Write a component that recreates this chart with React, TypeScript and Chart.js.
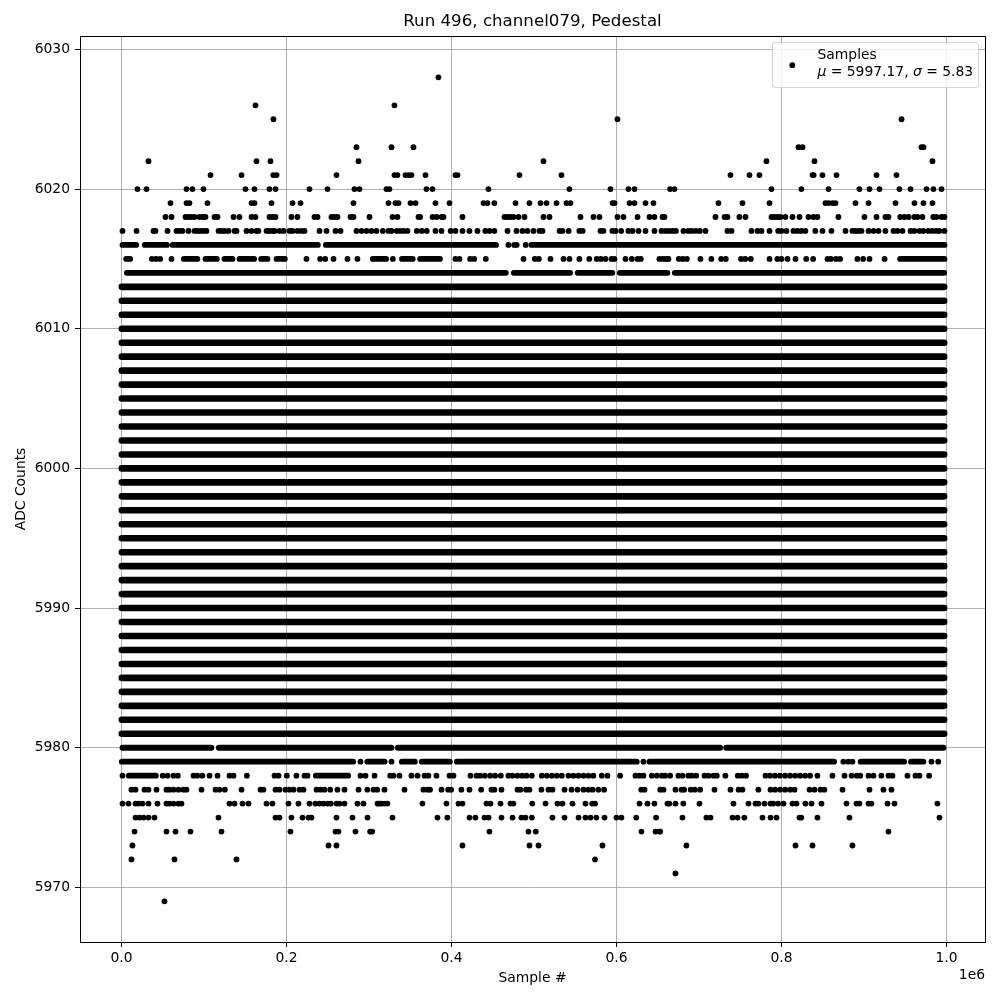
import React, { useEffect, useRef } from "react";
import { Chart, registerables } from "chart.js";

Chart.register(...registerables);

// All sample positions below are in thousands of samples.
const SAMPLE_UNIT = 1000;
const xTicks = [0, 200000, 400000, 600000, 800000, 1000000];
const yTicks = [5970, 5980, 5990, 6000, 6010, 6020, 6030];
const title = "Run 496, channel079, Pedestal";

// Levels where the samples overlap into an unbroken band: [first, last]
const solidLevels = [5981, 5982, 5983, 5984, 5985, 5986, 5987, 5988, 5989, 5990, 5991, 5992, 5993, 5994, 5995, 5996, 5997, 5998, 5999, 6000, 6001, 6002, 6003, 6004, 6005, 6006, 6007, 6008, 6009, 6010, 6011, 6012, 6013];
const solidExtent = [0.4, 997.2];

// Levels with runs of overlapping samples: [first, last] per run
const runs6016 = [[1.2, 17.8], [28.3, 55], [62, 238], [247.7, 454], [497, 997.6]];
const runs6015 = [[5.7, 10.5], [75.6, 92], [101.8, 115.6], [124.8, 134.5], [143, 160.8], [169.3, 177], [187.9, 198], [304.6, 320.8], [340, 353], [362, 386], [943.8, 997.6]];
const runs6014 = [[6.5, 465.9], [475.6, 543.8], [553, 595], [604, 661.8], [670.7, 997.2]];
const runs5980 = [[1.2, 109], [118, 327.3], [335, 725.7], [733, 996.4]];
const runs5979 = [[0.4, 280.8], [298, 319], [339.8, 355.6], [364, 398], [406.5, 624.6], [640, 863.8], [896, 948.7], [957, 972]];
const runs5978 = [[8.9, 41.6], [235.6, 274.7]];

// Individually visible samples
const dots6028 = [384.2];
const dots6026 = [162.4, 330.9];
const dots6025 = [184.2, 601.2, 945.5];
const dots6023 = [284.8, 327.3, 353.9, 820.6, 825.5, 969.7, 972.1];
const dots6022 = [32.7, 163.6, 180.6, 287.3, 511.5, 781.8, 840, 983];
const dots6021 = [107.9, 145.5, 184, 188, 260.6, 330.9, 334.5, 344.2, 347.9, 351.5, 368.5, 404.8, 407.3, 482.4, 533.3, 738.2, 761.2, 773.3, 837.6, 839, 849.7, 866.7, 915.2, 939.4];
const dots6020 = [19.4, 30.3, 78.8, 86, 99.4, 150.3, 161.2, 179.4, 186.7, 227.9, 249.7, 282.4, 288.5, 321.2, 324.8, 369.7, 377, 444.8, 543, 592.7, 614.5, 621.8, 665, 670.3, 787.9, 824.2, 857, 894.5, 906.7, 918.8, 943, 956.4, 975.8, 984.2, 994];
const dots6019 = [59.4, 78.8, 82.4, 104.2, 157.6, 161.2, 181.8, 207.3, 217, 281.2, 323.6, 332, 335.8, 350.3, 356.4, 380.6, 397.6, 438.8, 443.6, 452, 477.6, 494.5, 507.9, 515.2, 527.3, 539.4, 544.2, 595.2, 597.6, 615.8, 621.8, 635.2, 644.8, 723.6, 752.7, 785.5, 853.3, 857, 861.8, 865.5, 889.7, 905.5, 938.2, 961.2, 972.1, 983];
const dots6018 = [53.3, 60.6, 77.6, 81.2, 84.8, 88.5, 94.5, 98.2, 101.8, 112.7, 116.4, 135.8, 143, 157.6, 162.4, 179.4, 183, 186.7, 206, 213.3, 233.9, 237.6, 254.5, 258.2, 261.8, 277.6, 281.2, 300.6, 328.5, 334.5, 360, 362, 377, 381.8, 387.9, 390.3, 413.3, 464.2, 467.9, 471.5, 475, 481.2, 488.5, 511.5, 518.8, 556.4, 572.1, 579.4, 601.2, 608.5, 625.5, 640, 646, 655.8, 658.2, 720, 731, 734.5, 749, 756.4, 787.9, 791.5, 795, 798.8, 804.8, 813.3, 821.8, 832.7, 838.8, 843.6, 869, 900.6, 915.2, 926, 929.7, 944, 949, 954, 961, 964.8, 970.9, 984, 987.9, 994, 997.6];
const dots6017 = [1.2, 18.2, 38.8, 41.2, 55.8, 66.7, 70.3, 73.9, 81.2, 88.5, 92.1, 95.8, 99.4, 103, 117.6, 121.2, 124.8, 129.7, 137, 139.4, 151.5, 157.6, 163.6, 166, 175.8, 179.4, 183, 185.5, 191.5, 196.4, 203.6, 207.3, 213.3, 218.2, 221.8, 240, 248.5, 259.4, 265.5, 284.8, 290.9, 297, 303, 309, 316.8, 323.6, 327.3, 333.7, 337.8, 341.8, 346.7, 358, 364, 370, 380.6, 387.9, 399, 404.8, 413.3, 421.8, 431.5, 441, 446, 452, 467.9, 478.8, 486, 492, 499.4, 506.7, 510.3, 531, 534.5, 542, 555, 559, 580.6, 584.2, 595, 598.8, 605.7, 614.5, 619.4, 626.7, 635.2, 646, 654.5, 659.4, 664, 668, 672, 681.2, 687, 691, 696, 701, 707.9, 734.5, 739.4, 763.6, 771, 775.8, 785.5, 796, 800, 806, 814.5, 819.4, 824.2, 829, 841, 849.7, 860.6, 877.6, 886, 889.7, 893.3, 897, 905.5, 911.5, 917.6, 926, 935.8, 940.6, 946.7, 956.4, 961, 967.3, 972, 978, 983, 987.9, 991.5, 997.6];
const dots6016 = [469, 476, 479, 490];
const dots6015 = [36.8, 41.8, 46.9, 60.6, 224.2, 240.8, 246.9, 257, 273.9, 286, 328.9, 404.8, 409.7, 422.6, 427.5, 441.6, 487.3, 501, 505.9, 520, 535.8, 543, 555, 567, 576, 581, 586.7, 594, 597.6, 611, 618.6, 625.5, 629.5, 652, 659, 663, 656, 661.8, 675.6, 680.4, 685.3, 701.8, 715, 726.9, 732.5, 751, 756, 762.8, 785.5, 795, 800, 807.3, 817, 830, 838.4, 855.8, 859.8, 865.9, 871, 892, 899, 906.7, 925];
const dots5979 = [289.7, 327.3, 632.7, 875, 881, 886, 981.8, 990];
const dots5978 = [1.2, 50, 55.8, 63, 68.3, 87.3, 92, 98, 106.7, 116.4, 130.9, 135.8, 152, 185.5, 190.3, 200.4, 212, 221.8, 225.5, 289.7, 295.8, 306.7, 325.7, 329.7, 336.9, 351.5, 358.8, 367.3, 372, 381.8, 397.6, 402.4, 423, 430.3, 434.7, 440.4, 446.9, 452.9, 459.8, 469, 474, 480, 485.7, 491, 497.4, 509.5, 515.6, 521.6, 527.7, 533.7, 541.8, 547.9, 553.9, 560, 566, 572, 582.2, 589, 604.4, 623, 627.9, 632.7, 642.8, 648.9, 655, 659, 665, 675, 680, 687, 691.3, 696.6, 706.7, 711.5, 717.6, 721.6, 732, 747, 752, 757, 780.6, 786, 792, 798, 804.4, 810.5, 816.6, 822.6, 828.7, 834.7, 843.6, 861.8, 876.4, 885, 891.3, 895.4, 905.5, 911.5, 921, 929.7, 934.5, 952.7, 962.4, 967.3, 979];
const dots5977 = [12, 17, 27.9, 32.7, 42.4, 54.5, 58.2, 63, 69, 75, 78.8, 97, 114, 118.8, 125.3, 145.5, 168.5, 172, 186.7, 191.5, 198.8, 203.6, 208.5, 215.8, 220.6, 236.4, 241.2, 246, 253, 261.8, 270.3, 287.3, 298, 305.5, 310, 318.8, 343, 366, 371, 374, 387.9, 396, 399.6, 412, 421.8, 436, 448.5, 452, 460.6, 480, 483.6, 490.5, 494.5, 509, 517.6, 522.4, 537, 545.5, 552.8, 560, 566, 571, 578, 585, 630, 634, 653, 657, 671.5, 678.8, 682, 690, 695, 701.4, 718.8, 738.2, 748, 752.7, 772, 786.7, 792.3, 798.4, 804.4, 810.5, 815.8, 834, 840, 847.3, 852, 874, 906.7, 923.6, 933.3];
const dots5976 = [1.2, 8.5, 17, 20.6, 25.5, 32.7, 43.6, 54.5, 58.2, 63, 69, 72.7, 130.9, 137, 146.7, 154, 175.8, 183, 202.4, 214.5, 227.9, 235, 240, 244.8, 249.7, 253.7, 260.6, 264.2, 270.3, 286, 293.3, 310.3, 312, 314.7, 318.8, 322.4, 364.8, 393.9, 408.5, 413.3, 442.4, 447.3, 459.4, 471.5, 475, 498, 514, 528.5, 534.5, 546.7, 562.4, 570.6, 574, 627.9, 637.6, 646, 661.8, 664, 671.5, 681, 700.6, 741.8, 760, 768.5, 772, 779.4, 786.7, 790, 796, 802.4, 813.3, 818.2, 829, 836.4, 848.5, 878.8, 890.9, 894.5, 905.5, 909, 928.5, 937, 989];
const dots5975 = [17, 21.8, 26.7, 32.7, 40, 117.6, 186.7, 191.5, 206, 219.4, 226.7, 230.3, 260.6, 280, 298.2, 328.5, 383, 395, 421.8, 429, 440, 445, 460.6, 474, 484.8, 489.7, 497.4, 522.4, 537, 554, 562.4, 568.5, 575.6, 585.5, 600, 606, 624, 648, 680, 709, 714, 740.6, 746.7, 755, 777, 786.7, 794, 821.8, 824, 843.6, 882.4, 991.5];
const dots5974 = [15.8, 54.5, 65.5, 83.6, 121.2, 204.8, 259.4, 263, 283.6, 301.4, 303.8, 446, 493.3, 502.2, 630.3, 647.3, 652, 653, 929.7];
const dots5973 = [13.3, 250.9, 260.6, 413.3, 494.5, 505.5, 583, 684.8, 817, 837.6, 886];
const dots5972 = [12.1, 64.2, 139.4, 574];
const dots5971 = [671.5];
const dots5969 = [52.1];

const legendLabel = "Samples";
const muText = "5997.17";
const sigmaText = "5.83";

const FONT = '"DejaVu Sans"';

const solidRows: [number, number[][]][] = solidLevels.map((l): [number, number[][]] => [l, [solidExtent]]);
const runRows: [number, number[][]][] = [
  [6016, runs6016], [6015, runs6015], [6014, runs6014],
  [5980, runs5980], [5979, runs5979], [5978, runs5978],
];
const dotRows: [number, number[]][] = [
  [6028, dots6028], [6026, dots6026], [6025, dots6025], [6023, dots6023], [6022, dots6022],
  [6021, dots6021], [6020, dots6020], [6019, dots6019], [6018, dots6018], [6017, dots6017],
  [6016, dots6016], [6015, dots6015], [5979, dots5979], [5978, dots5978], [5977, dots5977],
  [5976, dots5976], [5975, dots5975], [5974, dots5974], [5973, dots5973], [5972, dots5972],
  [5971, dots5971], [5969, dots5969],
];

const toLineData = (rows: [number, number[][]][]) => {
  const out: { x: number; y: number | null }[] = [];
  for (const [level, segs] of rows) {
    for (const [a, b] of segs) {
      out.push({ x: a * SAMPLE_UNIT, y: level });
      out.push({ x: b * SAMPLE_UNIT, y: level });
      out.push({ x: b * SAMPLE_UNIT, y: null });
    }
  }
  return out;
};

const framePlugin = {
  id: "frame",
  afterDatasetsDraw(chart: any) {
    const { ctx, chartArea: a } = chart;
    ctx.save();
    ctx.strokeStyle = "#000";
    ctx.lineWidth = 1;
    ctx.strokeRect(a.left + 0.5, a.top + 0.5, a.right - a.left, a.bottom - a.top);
    ctx.restore();
  },
};

const legendPlugin = {
  id: "mplLegend",
  afterDraw(chart: any) {
    const { ctx, chartArea: a } = chart;
    ctx.save();
    // offset label of the x axis
    ctx.fillStyle = "#000";
    ctx.font = `13.89px ${FONT}`;
    ctx.textAlign = "right";
    ctx.textBaseline = "alphabetic";
    ctx.fillText("1e6", a.right, 979);

    // legend box
    const x = 772.5, y = 42.5, w = 206, h = 45;
    ctx.beginPath();
    ctx.roundRect(x, y, w, h, 3);
    ctx.fillStyle = "rgba(255,255,255,0.8)";
    ctx.fill();
    ctx.strokeStyle = "rgba(204,204,204,0.8)";
    ctx.lineWidth = 1.1;
    ctx.stroke();

    ctx.beginPath();
    ctx.arc(792.3, 65.2, 2.9, 0, Math.PI * 2);
    ctx.fillStyle = "#000";
    ctx.fill();

    ctx.textAlign = "left";
    ctx.fillText(legendLabel, 817.5, 58.8);
    let tx = 817.5;
    const parts: [string, boolean][] = [
      ["μ", true], [" = " + muText + ", ", false], ["σ", true], [" = " + sigmaText, false],
    ];
    for (const [text, italic] of parts) {
      ctx.font = `${italic ? "italic " : ""}13.89px ${FONT}`;
      ctx.fillText(text, tx, 76);
      tx += ctx.measureText(text).width;
    }
    ctx.restore();
  },
};

export default function App() {
  const ref = useRef<HTMLCanvasElement | null>(null);

  useEffect(() => {
    if (!ref.current) return;
    Chart.defaults.font.family = FONT;
    Chart.defaults.color = "#000";

    const dotData: { x: number; y: number }[] = [];
    for (const [level, xs] of dotRows) {
      for (const x of xs) dotData.push({ x: x * SAMPLE_UNIT, y: level });
    }

    const chart = new Chart(ref.current, {
      type: "scatter",
      data: {
        datasets: [
          {
            label: "Solid bands",
            data: toLineData(solidRows) as any,
            showLine: true,
            spanGaps: false,
            borderColor: "#000",
            borderWidth: 6.6,
            borderCapStyle: "round",
            pointRadius: 0,
            pointHoverRadius: 0,
          },
          {
            label: "Sample runs",
            data: toLineData(runRows) as any,
            showLine: true,
            spanGaps: false,
            borderColor: "#000",
            borderWidth: 5.8,
            borderCapStyle: "round",
            pointRadius: 0,
            pointHoverRadius: 0,
          },
          {
            label: legendLabel,
            data: dotData,
            showLine: false,
            pointRadius: 2.9,
            pointBorderWidth: 0,
            backgroundColor: "#000",
            borderColor: "#000",
          },
        ],
      },
      options: {
        responsive: false,
        animation: false,
        layout: { padding: { left: 0, right: 15, top: 0, bottom: 0 } },
        plugins: {
          legend: { display: false },
          tooltip: { enabled: false },
          title: {
            display: true,
            text: title,
            fullSize: false,
            color: "#000",
            font: { size: 16.67, weight: "normal", family: FONT },
            padding: { top: 12, bottom: 4 },
          },
        },
        scales: {
          x: {
            type: "linear",
            min: -50300,
            max: 1046700,
            afterBuildTicks: (s: any) => { s.ticks = xTicks.map((value) => ({ value })); },
            afterFit: (s: any) => { s.height = 58; },
            ticks: {
              autoSkip: false,
              maxRotation: 0,
              padding: 3,
              color: "#000",
              font: { size: 13.89 },
              callback: (v: any) => (Number(v) / 1e6).toFixed(1),
            },
            grid: { color: "#b0b0b0", lineWidth: 1, tickColor: "#000", tickLength: 5 },
            border: { display: false },
            title: {
              display: true,
              text: "Sample #",
              color: "#000",
              font: { size: 13.89 },
              padding: { top: 0, bottom: 13.5 },
            },
          },
          y: {
            type: "linear",
            min: 5966.09,
            max: 6030.96,
            afterBuildTicks: (s: any) => { s.ticks = yTicks.map((value) => ({ value })); },
            afterFit: (s: any) => { s.width = 80; },
            ticks: {
              autoSkip: false,
              padding: 5,
              color: "#000",
              font: { size: 13.89 },
              callback: (v: any) => String(v),
            },
            grid: { color: "#b0b0b0", lineWidth: 1, tickColor: "#000", tickLength: 5 },
            border: { display: false },
            title: {
              display: true,
              text: "ADC Counts",
              color: "#000",
              font: { size: 13.89 },
              padding: { top: 13.2, bottom: 0 },
            },
          },
        },
      },
      plugins: [framePlugin, legendPlugin],
    } as any);

    return () => chart.destroy();
  }, []);

  return (
    <div style={{ position: "absolute", left: 0, top: 0, width: 1000, height: 1000, background: "#fff" }}>
      <canvas ref={ref} width={1000} height={1000} style={{ display: "block" }} />
    </div>
  );
}
